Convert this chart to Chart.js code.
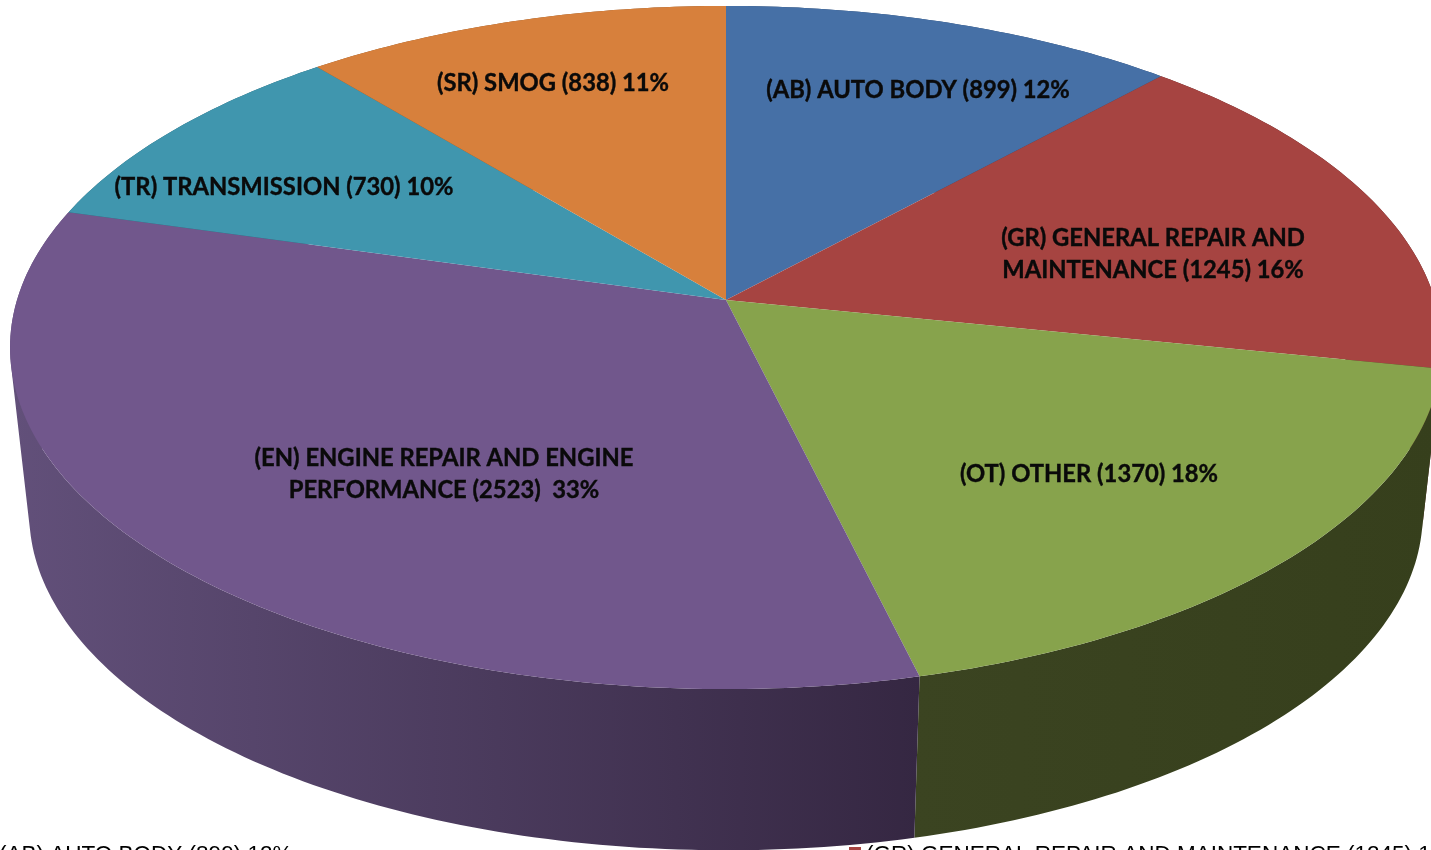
<!DOCTYPE html>
<html>
<head>
<meta charset="utf-8">
<style>
    html, body { margin: 0; padding: 0; background: #fff; overflow: hidden; }
    canvas { display: block; }
</style>
<script src="https://cdn.jsdelivr.net/npm/chart.js@4"></script>
</head>
<body>
<canvas id="pieChart" width="1431" height="850"></canvas>
<script>
// Chart values
const categories = ['(AB) AUTO BODY', '(GR) GENERAL REPAIR AND MAINTENANCE', '(OT) OTHER', '(EN) ENGINE REPAIR AND ENGINE PERFORMANCE', '(TR) TRANSMISSION', '(SR) SMOG'];
const counts = [899, 1245, 1370, 2523, 730, 838];
const percents = ['12%', '16%', '18%', '33%', '10%', '11%'];
const sliceLabels = [
    ['(AB) AUTO BODY (899) 12%'],
    ['(GR) GENERAL REPAIR AND', 'MAINTENANCE (1245) 16%'],
    ['(OT) OTHER (1370) 18%'],
    ['(EN) ENGINE REPAIR AND ENGINE', 'PERFORMANCE (2523)  33%'],
    ['(TR) TRANSMISSION (730) 10%'],
    ['(SR) SMOG (838) 11%']
];

// Styles
const topColors = ['#4670a6', '#a64441', '#87a34c', '#71578c', '#4096ae', '#d7803c'];
const wallStart = ['#2f4a6e', '#5a2524', '#3b4421', '#62507a', '#28606f', '#8a5226'];
const wallEnd = ['#2f4a6e', '#5a2524', '#363f1c', '#352742', '#28606f', '#8a5226'];
const labelCenters = [[918, 90], [1153, 254], [1089, 474], [444, 474], [284, 187], [553, 83]];
const labelStretch = 0.97;

// Perspective of the pie: top face and lower face of the disc
const tilt = 0.139;
const topFace = { cx: 726, cy: 300, a: 709, b: 335 };
const lowFace = { cx: 726, cy: 467, a: 690, b: 330 };

function project(face, theta) {
    const x = Math.sin(theta);
    const y = Math.cos(theta);
    const w = 1 + tilt * y;
    return [face.cx + face.a * x / w, face.cy - face.b * y / w];
}

// Turn a Chart.js arc angle into an angle measured clockwise from the top
function arcRange(arc) {
    return [arc.startAngle + Math.PI / 2, arc.endAngle + Math.PI / 2];
}

function signedArea(quad) {
    let sum = 0;
    quad.forEach((p, k) => {
        const next = quad[(k + 1) % quad.length];
        sum += p[0] * next[1] - next[0] * p[1];
    });
    return sum;
}

const pie3d = {
    id: 'pie3d',
    beforeDatasetsDraw(chart) {
        const ctx = chart.ctx;
        const arcs = chart.getDatasetMeta(0).data;

        // Walls first, the top faces cover whatever is at the back
        arcs.forEach((arc, i) => {
            const [start, end] = arcRange(arc);
            const steps = Math.max(8, Math.ceil((end - start) * 60));
            const upper = [];
            const lower = [];
            for (let s = 0; s <= steps; s++) {
                const t = start + (end - start) * s / steps;
                upper.push(project(topFace, t));
                lower.push(project(lowFace, t));
            }
            const xs = upper.concat(lower).map(p => p[0]);
            const fill = ctx.createLinearGradient(Math.min(...xs), 0, Math.max(...xs), 0);
            fill.addColorStop(0, wallStart[i]);
            fill.addColorStop(1, wallEnd[i]);
            // One path of quads, so the outline follows the tangent between both faces.
            // All quads wound the same way or the front and back of the wall cancel out.
            ctx.beginPath();
            for (let s = 0; s < steps; s++) {
                const quad = [upper[s], upper[s + 1], lower[s + 1], lower[s]];
                if (signedArea(quad) < 0) quad.reverse();
                quad.forEach((p, k) => k ? ctx.lineTo(p[0], p[1]) : ctx.moveTo(p[0], p[1]));
                ctx.closePath();
            }
            ctx.fillStyle = fill;
            ctx.fill();
        });

        // Top faces
        arcs.forEach((arc, i) => {
            const [start, end] = arcRange(arc);
            const steps = Math.max(8, Math.ceil((end - start) * 60));
            ctx.beginPath();
            ctx.moveTo(topFace.cx, topFace.cy);
            for (let s = 0; s <= steps; s++) {
                const p = project(topFace, start + (end - start) * s / steps);
                ctx.lineTo(p[0], p[1]);
            }
            ctx.closePath();
            ctx.fillStyle = topColors[i];
            ctx.fill();
        });

        // Slice labels
        ctx.fillStyle = '#0a0a0a';
        ctx.strokeStyle = '#0a0a0a';
        ctx.lineWidth = 0.4;
        ctx.font = 'bold 24.5px Lato';
        ctx.textAlign = 'center';
        ctx.textBaseline = 'middle';
        sliceLabels.forEach((lines, i) => {
            lines.forEach((line, k) => {
                const y = labelCenters[i][1] + (k - (lines.length - 1) / 2) * 32;
                ctx.save();
                ctx.translate(labelCenters[i][0], y);
                ctx.scale(labelStretch, 1);
                ctx.fillText(line, 0, 0);
                ctx.strokeText(line, 0, 0);
                ctx.restore();
            });
        });

        // Legend, only its top edge fits in the picture
        ctx.font = '22.5px "Liberation Sans"';
        ctx.textAlign = 'left';
        ctx.textBaseline = 'alphabetic';
        ctx.fillStyle = '#000';
        ctx.fillText(`${categories[0]} (${counts[0]}) ${percents[0]}`, -1, 861);
        ctx.fillText(`${categories[1]} (${counts[1]}) ${percents[1]}`, 866, 861);
        ctx.fillStyle = topColors[1];
        ctx.fillRect(849, 847, 12, 12);

        return false;
    }
};

new Chart(document.getElementById('pieChart'), {
    type: 'pie',
    data: {
        labels: categories,
        datasets: [{
            data: counts,
            backgroundColor: topColors
        }]
    },
    options: {
        responsive: false,
        animation: false,
        plugins: {
            legend: { display: false },
            tooltip: { enabled: false }
        }
    },
    plugins: [pie3d]
});
</script>
</body>
</html>
